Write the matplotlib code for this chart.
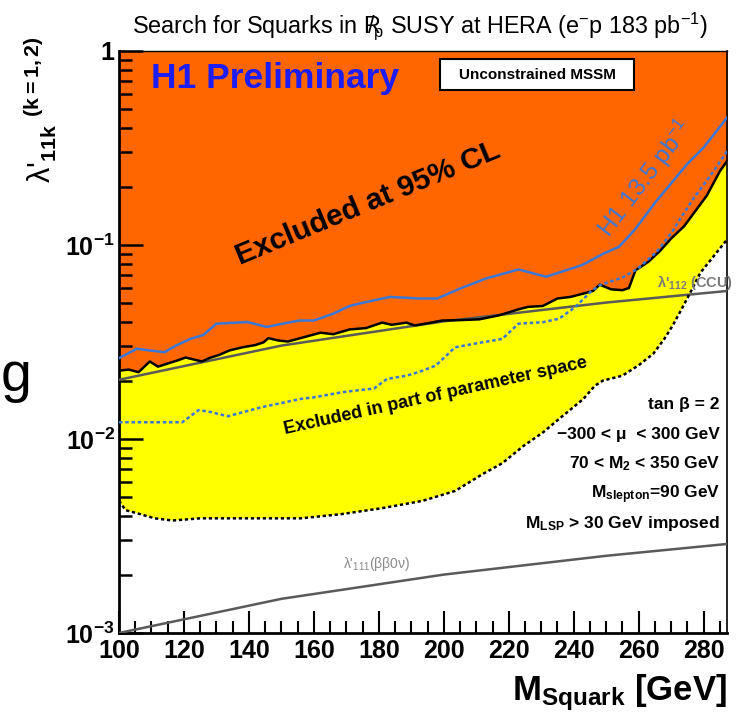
import numpy as np
import matplotlib
matplotlib.use("Agg")
import matplotlib.pyplot as plt
from matplotlib.patches import Rectangle
from matplotlib.ticker import MultipleLocator, LogLocator, NullFormatter

# data
# H1 183 pb-1 limit (black solid line, top of yellow band)
m_h1 = [100, 103, 106, 109.5, 112, 115, 118, 120.5, 123, 125.5, 128, 131, 134, 138,
        142, 144.5, 146, 149, 152, 157, 162, 166, 171, 176, 181, 184, 188.5, 191,
        195, 199.5, 205, 211, 217, 223, 226, 230.5, 235, 239, 243, 246, 248, 251.5,
        255, 257, 259, 263, 266.5, 270, 274, 277.5, 281, 285, 287.5]
lam_h1 = [0.0225, 0.0228, 0.0221, 0.0251, 0.0236, 0.0245, 0.0254, 0.0263, 0.0257,
          0.0251, 0.0262, 0.0272, 0.0286, 0.0297, 0.0305, 0.0315, 0.0331, 0.0322,
          0.0318, 0.0335, 0.0353, 0.0347, 0.0367, 0.0373, 0.0398, 0.0388, 0.0398,
          0.0385, 0.0395, 0.0408, 0.0410, 0.0414, 0.0434, 0.0466, 0.0480, 0.0485,
          0.0530, 0.0540, 0.0562, 0.0580, 0.0625, 0.0591, 0.0585, 0.0600, 0.0740,
          0.0820, 0.0930, 0.108, 0.125, 0.150, 0.180, 0.240, 0.275]

# lower edge of "excluded in part of parameter space" (black dashed)
m_part = [100, 102, 106.5, 111, 116.5, 125, 135, 144, 156, 168.5, 181, 193.5, 203.5,
          212, 218, 224.5, 230.5, 236.5, 243, 246.5, 249, 255, 260, 264.5, 268, 270.5,
          273, 276, 279, 282.5, 285, 287.5]
lam_part = [0.0048, 0.0043, 0.0041, 0.0039, 0.0038, 0.0039, 0.0039, 0.0039, 0.0039,
            0.0041, 0.0044, 0.0048, 0.0054, 0.0066, 0.0075, 0.0092, 0.0108, 0.0131,
            0.0161, 0.0188, 0.0200, 0.0212, 0.0240, 0.0275, 0.0330, 0.0385, 0.0460,
            0.0573, 0.0720, 0.0850, 0.0960, 0.108]

# old H1 13.5 pb-1 limits (blue solid / blue dotted)
m_old = [100, 105.5, 109.5, 114, 117.5, 122, 126, 130, 135, 139.5, 145.5, 150, 155.5,
         160, 166, 171, 176, 183.5, 192.5, 198, 205.5, 213, 223, 231.5, 242.5, 249,
         254, 259, 265, 270, 275, 280, 287.5]
lam_old = [0.0261, 0.0292, 0.0286, 0.0280, 0.0303, 0.0328, 0.0344, 0.0393, 0.0397,
           0.0401, 0.0378, 0.0392, 0.0408, 0.0408, 0.0443, 0.0485, 0.0508, 0.0540,
           0.0530, 0.0530, 0.0601, 0.0672, 0.0748, 0.0686, 0.0787, 0.0900, 0.0980,
           0.121, 0.165, 0.208, 0.262, 0.318, 0.46]
m_old_part = [100, 119.5, 124.5, 128, 133.5, 144, 156, 160, 168.5, 172, 178.5, 182.5,
              188.5, 192.5, 197.5, 203.5, 209.5, 218, 223, 230.5, 235.5, 240.5, 245.5,
              248, 251.5, 255, 259.5, 265.5, 270, 273, 277, 281, 284.5, 287.5]
lam_old_part = [0.0122, 0.0122, 0.0141, 0.0138, 0.0131, 0.0146, 0.0161, 0.0164, 0.0174,
                0.0177, 0.0182, 0.0204, 0.0212, 0.0222, 0.0239, 0.0297, 0.0310, 0.0328,
                0.0393, 0.0400, 0.0417, 0.0479, 0.0580, 0.0620, 0.0650, 0.0680, 0.0750,
                0.0920, 0.115, 0.138, 0.175, 0.215, 0.260, 0.310]

# indirect bounds
m_ccu = [100, 150, 200, 250, 287.5]
lam_ccu = [0.0202, 0.0303, 0.0404, 0.0505, 0.0580]
m_bb0v = [100, 150, 200, 250, 287.5]
lam_bb0v = [0.00100, 0.00150, 0.00200, 0.00250, 0.00288]

x_ticks = [100, 120, 140, 160, 180, 200, 220, 240, 260, 280]
x_labels = [str(v) for v in x_ticks]
y_ticks = [1e-3, 1e-2, 1e-1, 1]
y_labels = [r'$\mathbf{10^{-3}}$', r'$\mathbf{10^{-2}}$', r'$\mathbf{10^{-1}}$', '1']

params = ["tan β = 2", "−300 < μ  < 300 GeV", r"70 < M$_{\mathbf{2}}$ < 350 GeV",
          r"M$_{\mathbf{slepton}}$=90 GeV", r"M$_{\mathbf{LSP}}$ > 30 GeV imposed"]

plt.rcParams['font.family'] = ['Liberation Sans', 'DejaVu Sans']
plt.rcParams['mathtext.fontset'] = 'custom'
plt.rcParams['mathtext.rm'] = 'Liberation Sans'
plt.rcParams['mathtext.bf'] = 'Liberation Sans:bold'
plt.rcParams['mathtext.it'] = 'Liberation Sans:italic'

W, H = 737, 719


def fx(px):
    return px / W


def fy(py):
    return 1 - py / H


fig = plt.figure(figsize=(W / 100, H / 100), dpi=100)
ax = fig.add_axes([fx(119), fy(633), 608 / W, 582 / H])

orange = '#ff6600'
yellow = '#ffff00'
blue = '#3a78d8'

# yellow band between dashed and solid black, orange above
ax.fill(np.concatenate([m_h1, m_part[::-1]]), np.concatenate([lam_h1, lam_part[::-1]]),
        color=yellow, lw=0, zorder=1)
ax.fill_between(m_h1, lam_h1, 1.0, color=orange, lw=0, zorder=1)

ax.plot(m_ccu, lam_ccu, color='#5a5a5a', lw=1.8, zorder=3)
ax.plot(m_bb0v, lam_bb0v, color='#5a5a5a', lw=1.8, zorder=3)
ax.plot(m_h1, lam_h1, color='black', lw=1.8, zorder=4)
ax.plot(m_part, lam_part, color='black', lw=1.8, dashes=(1.3, 1.1), zorder=4)
ax.plot(m_old, lam_old, color=blue, lw=1.8, zorder=4)
ax.plot(m_old_part, lam_old_part, color=blue, lw=1.8, dashes=(1.4, 1.1), zorder=4)

ax.set_yscale('log')
ax.set_xlim(100, 287.2)
ax.set_ylim(1e-3, 1)
ax.set_xticks(x_ticks, x_labels)
ax.set_yticks(y_ticks, y_labels)
ax.xaxis.set_minor_locator(MultipleLocator(5))
ax.yaxis.set_minor_locator(LogLocator(base=10, subs=np.arange(2, 10) * 1.0, numticks=20))
ax.yaxis.set_minor_formatter(NullFormatter())
ax.tick_params(which='both', direction='in', top=False, right=False)
ax.tick_params(axis='y', which='major', length=17, width=1.8, labelsize=18, pad=3)
ax.tick_params(axis='y', which='minor', length=9.5, width=1.8)
ax.tick_params(axis='x', which='major', length=16, width=1.5, labelsize=18, pad=4)
ax.tick_params(axis='x', which='minor', length=8.5, width=1.5)
for lab in ax.get_xticklabels() + ax.get_yticklabels():
    lab.set_fontweight('bold')
ax.set_axisbelow(False)
ax.spines['left'].set_linewidth(2.0)
ax.spines['bottom'].set_linewidth(2.0)
ax.spines['top'].set_linewidth(1.0)
ax.spines['right'].set_linewidth(1.2)

# texts
fig.text(fx(420), fy(26), r"Search for Squarks in R$\!\!\!\!/_{\mathrm{p}}$ SUSY at HERA (e$^{-}$p 183 pb$^{-1}$)",
         ha='center', va='center', fontsize=16.8)
fig.text(fx(151), fy(88), "H1 Preliminary", color='#1c1cf5', fontsize=25.5,
         fontweight='bold', ha='left', va='baseline')
fig.add_artist(Rectangle((fx(440), fy(90)), 194 / W, 31 / H, transform=fig.transFigure,
                         fc='white', ec='black', lw=1.5, zorder=5))
fig.text(fx(537), fy(75), "Unconstrained MSSM", fontsize=11, fontweight='bold',
         ha='center', va='center', zorder=6)
fig.text(fx(368), fy(203), "Excluded at 95% CL", fontsize=21.5, fontweight='bold',
         rotation=22.5, rotation_mode='anchor', ha='center', va='center')
fig.text(fx(436), fy(396), "Excluded in part of parameter space", fontsize=13,
         fontweight='bold', rotation=12.5, rotation_mode='anchor', ha='center', va='center')
fig.text(fx(645), fy(178), "H1 13.5 pb$^{-1}$", color=blue, fontsize=17.5,
         rotation=52.6, rotation_mode='anchor', ha='center', va='center')
fig.text(fx(657), fy(287), r"λ'$_{\mathbf{112}}$ (CCU)", color='#7a7a7a', fontsize=10.5,
         fontweight='bold', ha='left', va='baseline')
fig.text(fx(343), fy(568), r"λ'$_{111}$(ββ0ν)", color='#8a8a8a', fontsize=10,
         ha='left', va='baseline')
for i, s in enumerate(params):
    fig.text(fx(720), fy(409 + i * 29.8), s, fontsize=12.5, fontweight='bold',
             ha='right', va='baseline')

fig.text(fx(40), fy(110), r"λ'$_{\mathbf{11k}}$ $^{\mathbf{(k=1,2)}}$", fontsize=22,
         rotation=90, ha='center', va='center')
fig.text(fx(727), fy(700), r"M$_{\mathbf{Squark}}$ [GeV]", fontsize=25,
         fontweight='bold', ha='right', va='baseline')
fig.text(fx(1), fy(391), "g", fontsize=40, ha='left', va='baseline')

fig.savefig("out.png", dpi=100)
